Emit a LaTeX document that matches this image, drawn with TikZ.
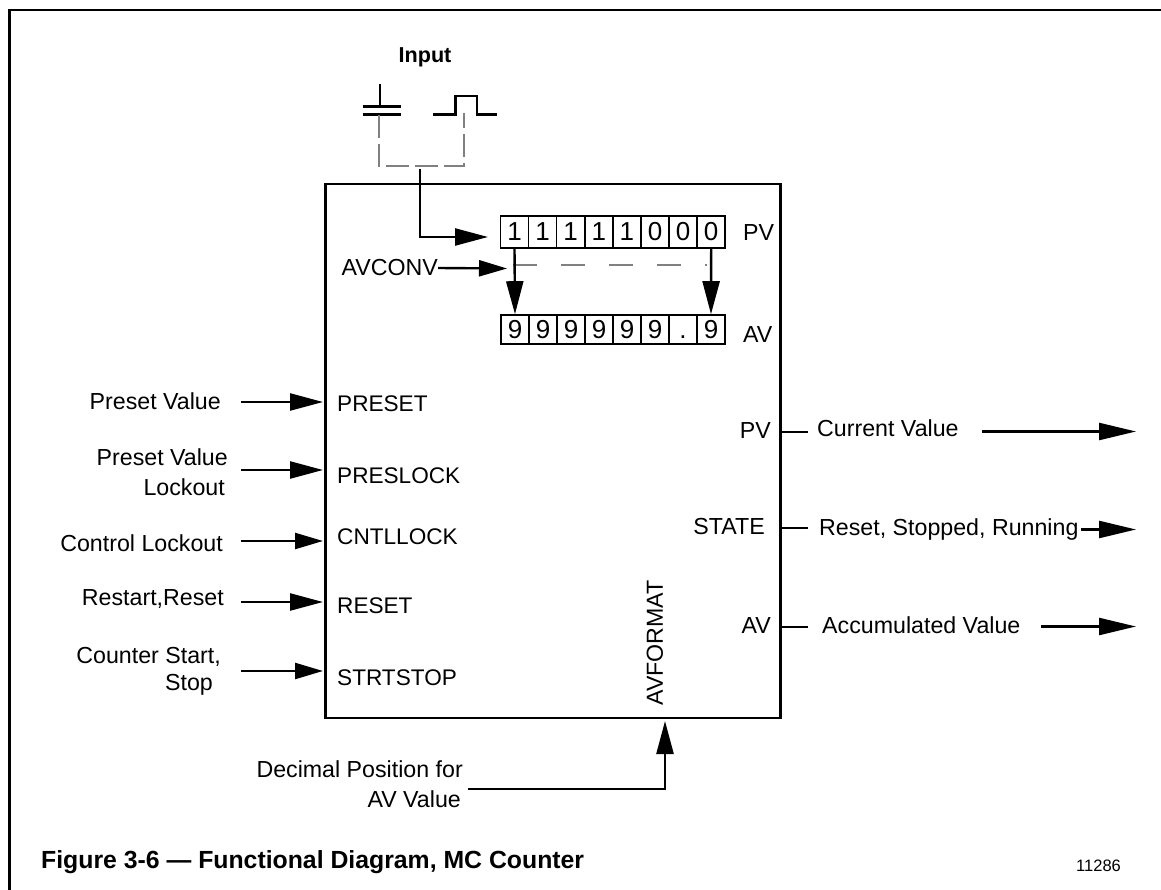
\documentclass[tikz,border=0pt]{standalone}
\usepackage{fontspec}
\setmainfont{Liberation Sans}
\usetikzlibrary{arrows.meta}
\newcommand{\fsz}[1]{\fontsize{#1}{#1}\selectfont}
\tikzset{
  x=1pt,y=-1pt,
  line/.style={line width=2.4pt,black},
  arr/.style={line width=2.4pt,-{Triangle[length=33pt,width=17pt]}},
  arrs/.style={line width=2.4pt,-{Triangle[length=28pt,width=16pt]}},
  arrlong/.style={line width=2.4pt,-{Triangle[length=37pt,width=17pt]}},
  dashgray/.style={line width=2.6pt,draw=black!50,dash pattern=on 23pt off 6pt},
  dashgrayb/.style={line width=2.6pt,draw=black!50,dash pattern=on 24pt off 24pt},
  lbl/.style={inner sep=0pt,font=\fsz{23.2},align=center},
  port/.style={anchor=west,inner xsep=14pt,inner ysep=0pt,font=\fsz{22.6}},
  cellb/.style={draw=black,line width=1.6pt,minimum width=28.1pt,minimum height=32pt,inner sep=0pt,font=\fsz{26}},
  cella/.style={draw=black,line width=1.6pt,minimum width=28pt,minimum height=29pt,inner sep=0pt,font=\fsz{26}},
}
\begin{document}
\begin{tikzpicture}
\useasboundingbox (0,0) rectangle (1161,890);
\fill[white] (0,0) rectangle (1161,890);
% page frame
\draw[line width=2.8pt,line cap=rect] (9.5,890) -- (9.5,10) -- (1161,10);
% main block
\node[draw=black,line width=2.4pt,minimum width=455pt,minimum height=534pt,inner sep=0pt] (box) at (553,451) {};
% input
\node[font=\bfseries\fsz{21.6},inner sep=0pt] (input) at (425,57) {Input};
\coordinate (contactTop) at (380,84);
\coordinate (contactA) at (380,106);
\draw[line] (contactTop) -- (contactA);
\draw[line] (363,106.5) -- (401,106.5);
\draw[line] (363,114.5) -- (401,114.5);
\draw[line] (433,114.5) -- (455.5,114.5) -- (455.5,96) -- (477,96) -- (477,114.5) -- (497,114.5);
\draw[dashgray] (379,115) -- (379,166) -- (464,166) -- (464,113);
% bit registers
\foreach \d [count=\i from 0] in {1,1,1,1,1,0,0,0}
  \node[cellb] (pv\i) at ({514.5+\i*28.1},232) {\d};
\foreach \d [count=\i from 0] in {9,9,9,9,9,9,.,9}
  \node[cella] (av\i) at ({515+\i*28},329.5) {\vphantom{9}\d};
\node[lbl,anchor=west] (pvtag) at (743,233) {PV};
\node[lbl,anchor=west] (avtag) at (743,335) {AV};
% input arrow
\coordinate (inS) at (420,169);
\coordinate (inK) at (420,237);
\coordinate (inE) at (488,237);
\draw[arr] (inS) -- (inK) -- (inE);
% avconv
\node[lbl,anchor=east] (avconv) at (438,268) {AVCONV};
\coordinate (avconvE) at (507,268.5);
\draw[arrs] (avconv.east) -- (avconvE);
\draw[dashgrayb] (513,265) -- (707,265);
\draw[arr] (pv0.south) -- (av0.north);
\draw[arr] (pv7.south) -- (av7.north);
% left ports
\node[port] (preset) at (323,404) {PRESET};
\node[port] (preslock) at (323,476) {PRESLOCK};
\node[port] (cntllock) at (323,537) {CNTLLOCK};
\node[port] (reset) at (323,606) {RESET};
\node[port] (strtstop) at (323,678) {STRTSTOP};
\node[lbl,anchor=east] (t1) at (221,401) {Preset Value};
\node[lbl,anchor=east] (t2a) at (228,457) {Preset Value};
\node[lbl,anchor=east] (t2b) at (225,487) {Lockout};
\node[lbl,anchor=east] (t3) at (223,543) {Control Lockout};
\node[lbl,anchor=east] (t4) at (224,599) {Restart,Reset};
\node[lbl,anchor=east] (t5a) at (221,657) {Counter Start,};
\node[lbl,anchor=east] (t5b) at (213,685) {Stop};
\coordinate (s1) at (241,402);
\coordinate (s2) at (241,470);
\coordinate (s3) at (241,541);
\coordinate (s4) at (241,602);
\coordinate (s5) at (241,671);
\draw[arr] (s1) -- (s1 -| preset.west);
\draw[arr] (s2) -- (s2 -| preslock.west);
\draw[arrs] (s3) -- (s3 -| cntllock.west);
\draw[arr] (s4) -- (s4 -| reset.west);
\draw[arrs] (s5) -- (s5 -| strtstop.west);
% right ports
\node[lbl,anchor=east] (opv) at (771,431) {PV};
\node[lbl,anchor=east] (ostate) at (765,527) {STATE};
\node[lbl,anchor=east] (oav) at (771,626) {AV};
\node[lbl,anchor=west] (r1) at (817,428) {Current Value};
\node[lbl,anchor=west] (r2) at (819,529) {Reset, Stopped, Running};
\node[lbl,anchor=west] (r3) at (822,625) {Accumulated Value};
\coordinate (e1) at (1136,431.5);
\coordinate (e2) at (1136,529.5);
\coordinate (e3) at (1136,626.5);
\coordinate (b1) at (781,432);
\coordinate (b2) at (781,528);
\coordinate (b3) at (781,627);
\draw[line] (b1) -- (808,432);
\draw[line] (b2) -- (808,528);
\draw[line] (b3) -- (808,627);
\draw[arrlong] (982,431.5) -- (e1);
\draw[arrlong] (1081,529.5) -- (e2);
\draw[arrlong] (1041,626.5) -- (e3);
% avformat
\node[lbl,rotate=90] (avformat) at (655,643) {AVFORMAT};
\node[lbl,anchor=east] (dec1) at (463,769) {Decimal Position for};
\node[lbl,anchor=east] (dec2) at (461,799) {AV Value};
\coordinate (decS) at (468,789);
\coordinate (decK) at (665,789);
\coordinate (decE) at (665,721);
\draw[arr] (decS) -- (decK) -- (decE);
% caption
\node[anchor=west,inner sep=0pt,font=\bfseries\fsz{24.8}] (cap) at (41,862) {Figure 3-6 — Functional Diagram, MC Counter};
\node[anchor=west,inner sep=0pt,font=\fsz{16.5}] (num) at (1076,866) {11286};
\end{tikzpicture}
\end{document}
